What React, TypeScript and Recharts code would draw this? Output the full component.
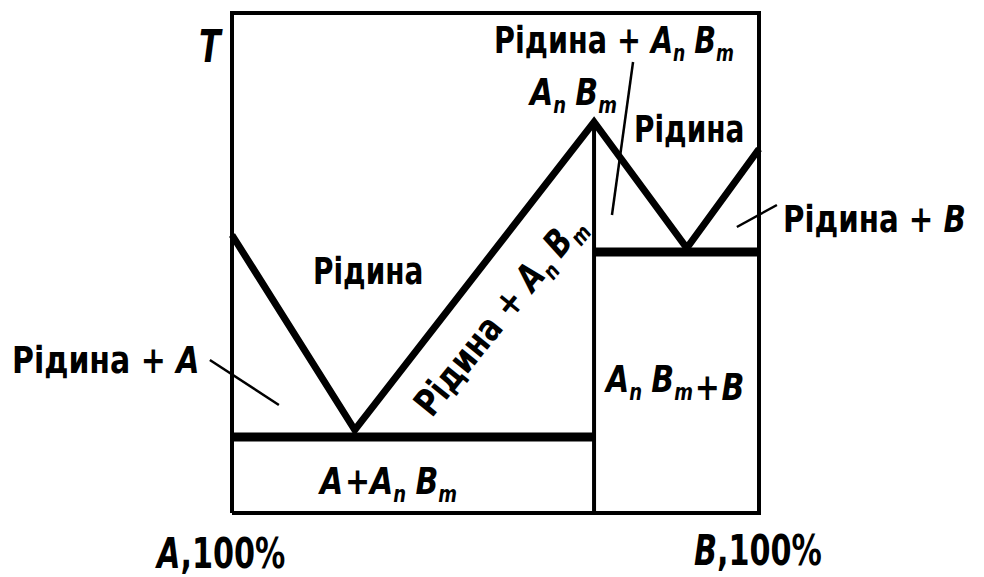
import React from "react";
import {
  ComposedChart,
  Line,
  ReferenceLine,
  XAxis,
  YAxis,
} from "recharts";

// composition, % B (0 = pure A, 100 = pure B) and temperature, arbitrary units
const frame = [
  { x: 0, t: 0 },
  { x: 0, t: 100 },
  { x: 100, t: 100 },
  { x: 100, t: 0 },
  { x: 0, t: 0 },
];

const liquidus = [
  { x: 0, t: 55.6 },
  { x: 23.3, t: 16.6 },
  { x: 68.7, t: 78.2 },
  { x: 86.3, t: 53 },
  { x: 100, t: 72.8 },
];

const eutecticLeft = [
  { x: 0, t: 15.2 },
  { x: 68.7, t: 15.2 },
];

const eutecticRight = [
  { x: 68.7, t: 52.2 },
  { x: 100, t: 52.2 },
];

const compound = [
  { x: 68.7, t: 0 },
  { x: 68.7, t: 78.2 },
];

// leader lines from the outside labels into their fields
const leaders = [
  [{ x: -4.2, y: 30.6 }, { x: 8.9, y: 21.6 }],
  [{ x: 76.1, y: 90.2 }, { x: 72.1, y: 59.6 }],
  [{ x: 103.4, y: 61.6 }, { x: 95.8, y: 57.2 }],
];

const FONT = "'Liberation Sans Narrow', 'DejaVu Sans Condensed', 'Liberation Sans', sans-serif";

function AB({ size, dy = 8 }: { size: number; dy?: number }) {
  const sub = size * 0.6;
  return (
    <>
      <tspan fontStyle="italic">A</tspan>
      <tspan fontStyle="italic" fontSize={sub} dy={dy}>n</tspan>
      <tspan fontStyle="italic" dy={-dy} dx={size * 0.28}>B</tspan>
      <tspan fontStyle="italic" fontSize={sub} dy={dy}>m</tspan>
      <tspan dy={-dy}>{""}</tspan>
    </>
  );
}

// narrow, tall lettering like the printed figure
function Lbl({
  x,
  y,
  size = 37,
  sx = 0.84,
  rotate = 0,
  anchor = "start",
  children,
}: {
  x: number;
  y: number;
  size?: number;
  sx?: number;
  rotate?: number;
  anchor?: string;
  children: React.ReactNode;
}) {
  return (
    <g transform={`translate(${x} ${y}) rotate(${rotate}) scale(${sx} 1)`}>
      <text x={0} y={0} fontSize={size} textAnchor={anchor}>
        {children}
      </text>
    </g>
  );
}

function Labels() {
  return (
    <svg
      width={984}
      height={577}
      style={{ position: "absolute", left: 0, top: 0, pointerEvents: "none" }}
      fontFamily={FONT}
      fontWeight="bold"
      fill="#000"
    >
      <Lbl x={199} y={62} size={44} sx={0.8}>
        <tspan fontStyle="italic">T</tspan>
      </Lbl>
      <Lbl x={494} y={53} sx={0.86}>
        Рідина + <AB size={37} />
      </Lbl>
      <Lbl x={530} y={105} sx={0.9}>
        <AB size={37} />
      </Lbl>
      <Lbl x={634} y={142}>Рідина</Lbl>
      <Lbl x={783} y={232} sx={0.88}>
        Рідина + <tspan fontStyle="italic">B</tspan>
      </Lbl>
      <Lbl x={313} y={284}>Рідина</Lbl>
      <Lbl x={12} y={373} sx={0.9}>
        Рідина + <tspan fontStyle="italic">A</tspan>
      </Lbl>
      <Lbl x={509} y={323} rotate={-51} anchor="middle" sx={0.88}>
        Рідина + <AB size={37} />
      </Lbl>
      <Lbl x={606} y={392} sx={0.9}>
        <AB size={37} />
        <tspan dx={2}>+</tspan>
        <tspan fontStyle="italic" dx={2}>B</tspan>
      </Lbl>
      <Lbl x={320} y={494} sx={0.9}>
        <tspan fontStyle="italic">A</tspan>
        <tspan dx={2}>+</tspan>
        <tspan dx={3}>{""}</tspan>
        <AB size={37} />
      </Lbl>
      <Lbl x={157} y={568} size={42} sx={0.8}>
        <tspan fontStyle="italic">A</tspan>,100%
      </Lbl>
      <Lbl x={694} y={565} size={42} sx={0.8}>
        <tspan fontStyle="italic">B</tspan>,100%
      </Lbl>
    </svg>
  );
}

export default function App() {
  return (
    <div
      style={{
        position: "absolute",
        left: 0,
        top: 0,
        width: 984,
        height: 577,
        background: "#fff",
      }}
    >
      <ComposedChart
        width={984}
        height={577}
        margin={{ top: 13, right: 225, bottom: 64, left: 232 }}
      >
        <XAxis type="number" dataKey="x" domain={[0, 100]} hide />
        <YAxis type="number" dataKey="t" domain={[0, 100]} hide />
        <Line
          data={frame}
          dataKey="t"
          stroke="#000"
          strokeWidth={4}
          dot={false}
          strokeLinejoin="miter"
          isAnimationActive={false}
        />
        <Line
          data={compound}
          dataKey="t"
          stroke="#000"
          strokeWidth={4}
          dot={false}
          isAnimationActive={false}
        />
        <Line
          data={eutecticLeft}
          dataKey="t"
          stroke="#000"
          strokeWidth={9}
          dot={false}
          isAnimationActive={false}
        />
        <Line
          data={eutecticRight}
          dataKey="t"
          stroke="#000"
          strokeWidth={9}
          dot={false}
          isAnimationActive={false}
        />
        <Line
          data={liquidus}
          dataKey="t"
          stroke="#000"
          strokeWidth={7}
          dot={false}
          strokeLinejoin="miter"
          isAnimationActive={false}
        />
        {leaders.map((seg, i) => (
          <ReferenceLine
            key={i}
            segment={seg}
            stroke="#000"
            strokeWidth={2.5}
            ifOverflow="visible"
          />
        ))}
      </ComposedChart>
      <Labels />
    </div>
  );
}
